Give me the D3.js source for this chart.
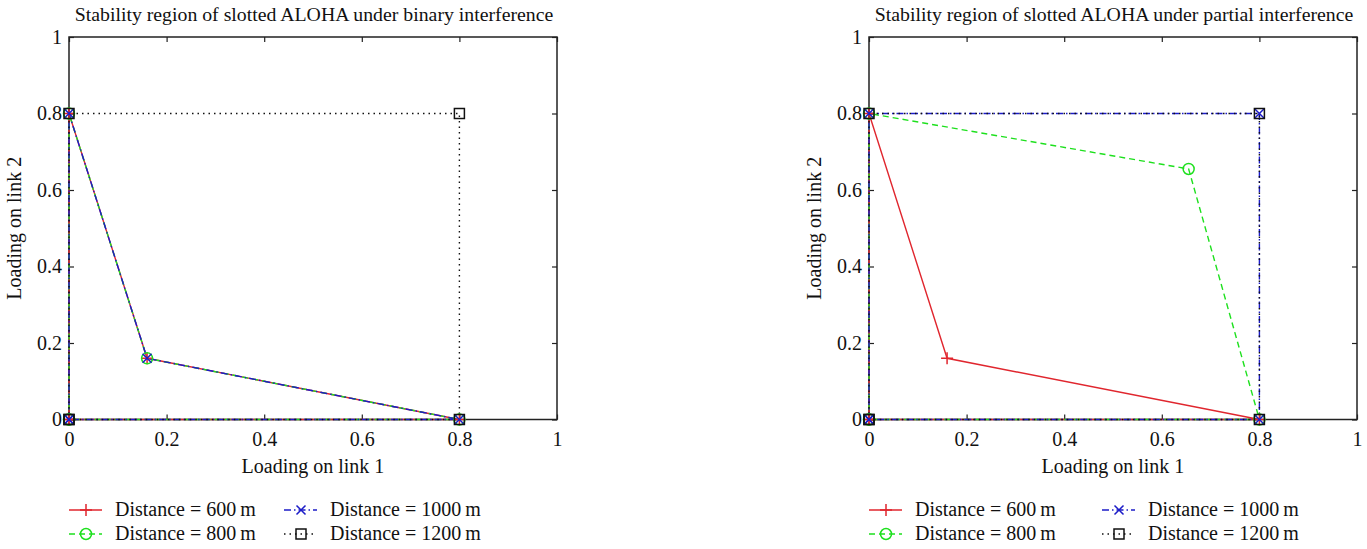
<!DOCTYPE html>
<html>
<head>
<meta charset="utf-8">
<script src="https://cdn.jsdelivr.net/npm/d3@7"></script>
<style>
  html, body { margin: 0; padding: 0; background: #fff; }
  svg { display: block; }
  text { font-family: "Liberation Serif", "DejaVu Serif", serif; fill: #111; }
</style>
</head>
<body>
<svg id="chart" width="1367" height="549"></svg>
<script>
// ---------- data ----------
const seriesNames = ["Distance = 600\u2009m", "Distance = 800\u2009m", "Distance = 1000\u2009m", "Distance = 1200\u2009m"];
const axisTicks = [0, 0.2, 0.4, 0.6, 0.8, 1];
const tickLabels = ["0", "0.2", "0.4", "0.6", "0.8", "1"];
const panelTitles = ["Stability region of slotted ALOHA under binary interference",
                     "Stability region of slotted ALOHA under partial interference"];
const xLabel = "Loading on link 1";
const yLabel = "Loading on link 2";

// binary interference panel
const binX600  = [0, 0, 0.16, 0.8, 0];
const binY600  = [0, 0.8, 0.16, 0, 0];
const binX800  = [0, 0, 0.16, 0.8, 0];
const binY800  = [0, 0.8, 0.16, 0, 0];
const binX1000 = [0, 0, 0.16, 0.8, 0];
const binY1000 = [0, 0.8, 0.16, 0, 0];
const binX1200 = [0, 0, 0.8, 0.8, 0];
const binY1200 = [0, 0.8, 0.8, 0, 0];

// partial interference panel
const parX600  = [0, 0, 0.16, 0.8, 0];
const parY600  = [0, 0.8, 0.16, 0, 0];
const parX800  = [0, 0, 0.655, 0.8, 0];
const parY800  = [0, 0.8, 0.655, 0, 0];
const parX1000 = [0, 0, 0.8, 0.8, 0];
const parY1000 = [0, 0.8, 0.8, 0, 0];
const parX1200 = [0, 0, 0.8, 0.8, 0];
const parY1200 = [0, 0.8, 0.8, 0, 0];

// ---------- styles ----------
const styles = [
  { color: "#e0262e", dash: null,          marker: "plus"   },
  { color: "#1ee01e", dash: "6,4",         marker: "circle" },
  { color: "#1c1cc8", dash: "7,3,1.5,3",   marker: "cross"  },
  { color: "#111111", dash: "1.5,4",       marker: "square" }
];

const svg = d3.select("#chart");

function zip(xs, ys) { return xs.map((x, i) => [x, ys[i]]); }

function drawMarker(g, type, cx, cy, color) {
  const s = 6;
  if (type === "plus") {
    g.append("path").attr("d", `M${cx - s},${cy}H${cx + s}M${cx},${cy - s}V${cy + s}`)
      .attr("stroke", color).attr("stroke-width", 1.5).attr("fill", "none");
  } else if (type === "circle") {
    g.append("circle").attr("cx", cx).attr("cy", cy).attr("r", 5.5)
      .attr("stroke", color).attr("stroke-width", 1.5).attr("fill", "none");
  } else if (type === "cross") {
    const c = 4.5;
    g.append("path").attr("d", `M${cx - c},${cy - c}L${cx + c},${cy + c}M${cx - c},${cy + c}L${cx + c},${cy - c}`)
      .attr("stroke", color).attr("stroke-width", 1.5).attr("fill", "none");
  } else if (type === "square") {
    const q = 5;
    g.append("rect").attr("x", cx - q).attr("y", cy - q).attr("width", 2 * q).attr("height", 2 * q)
      .attr("stroke", color).attr("stroke-width", 1.5).attr("fill", "none");
  }
}

function drawPanel(left, right, top, bottom, title, seriesData, legendCol2) {
  const x = d3.scaleLinear().domain([0, 1]).range([left, right]);
  const y = d3.scaleLinear().domain([0, 1]).range([bottom, top]);
  const g = svg.append("g");

  // frame
  g.append("rect").attr("x", left).attr("y", top)
    .attr("width", right - left).attr("height", bottom - top)
    .attr("fill", "none").attr("stroke", "#222").attr("stroke-width", 1.5);

  // axes (ticks inward)
  const fmt = (d, i) => tickLabels[i];
  const ax = g.append("g").attr("transform", `translate(0,${bottom})`)
    .call(d3.axisBottom(x).tickValues(axisTicks).tickFormat(fmt).tickSizeInner(-5).tickSizeOuter(0).tickPadding(12));
  const ay = g.append("g").attr("transform", `translate(${left},0)`)
    .call(d3.axisLeft(y).tickValues(axisTicks).tickFormat(fmt).tickSizeInner(-5).tickSizeOuter(0).tickPadding(7));
  const at = g.append("g").attr("transform", `translate(0,${top})`)
    .call(d3.axisTop(x).tickValues(axisTicks).tickFormat("").tickSizeInner(-5).tickSizeOuter(0));
  const ar = g.append("g").attr("transform", `translate(${right},0)`)
    .call(d3.axisRight(y).tickValues(axisTicks).tickFormat("").tickSizeInner(-5).tickSizeOuter(0));
  [ax, ay, at, ar].forEach(a => {
    a.select(".domain").remove();
    a.selectAll(".tick line").attr("stroke", "#222").attr("stroke-width", 1.2);
    a.selectAll(".tick text").attr("font-size", 20)
      .attr("font-family", "Liberation Serif, serif").attr("fill", "#111");
  });

  // series
  const line = d3.line().x(d => x(d[0])).y(d => y(d[1]));
  seriesData.forEach((pts, i) => {
    const st = styles[i];
    g.append("path").datum(pts).attr("d", line)
      .attr("fill", "none").attr("stroke", st.color).attr("stroke-width", 1.4)
      .attr("stroke-dasharray", st.dash);
  });
  seriesData.forEach((pts, i) => {
    const st = styles[i];
    const mg = g.append("g");
    pts.forEach(p => drawMarker(mg, st.marker, x(p[0]), y(p[1]), st.color));
  });

  // title & labels
  g.append("text").attr("x", (left + right) / 2 + 1).attr("y", 21)
    .attr("text-anchor", "middle").attr("font-size", 19.8).text(title);
  g.append("text").attr("x", (left + right) / 2).attr("y", bottom + 53)
    .attr("text-anchor", "middle").attr("font-size", 20).text(xLabel);
  g.append("text").attr("transform", `translate(${left - 48},${(top + bottom) / 2}) rotate(-90)`)
    .attr("text-anchor", "middle").attr("font-size", 20).text(yLabel);

  // legend
  const cols = [left, left + legendCol2];
  const rows = [510, 534];
  seriesNames.forEach((name, i) => {
    const cx0 = cols[Math.floor(i / 2)];
    const cy = rows[i % 2];
    const st = styles[i];
    const lg = g.append("g");
    lg.append("line").attr("x1", cx0).attr("x2", cx0 + 33).attr("y1", cy).attr("y2", cy)
      .attr("stroke", st.color).attr("stroke-width", 1.4).attr("stroke-dasharray", st.dash);
    drawMarker(lg, st.marker, cx0 + 17, cy, st.color);
    lg.append("text").attr("x", cx0 + 46).attr("y", cy + 6).attr("font-size", 20).text(name);
  });
}

const TOP = 37, BOTTOM = 419.5;
drawPanel(69, 557, TOP, BOTTOM, panelTitles[0], [
  zip(binX600, binY600), zip(binX800, binY800), zip(binX1000, binY1000), zip(binX1200, binY1200)
], 215);
drawPanel(869, 1357, TOP, BOTTOM, panelTitles[1], [
  zip(parX600, parY600), zip(parX800, parY800), zip(parX1000, parY1000), zip(parX1200, parY1200)
], 233);
</script>
</body>
</html>
